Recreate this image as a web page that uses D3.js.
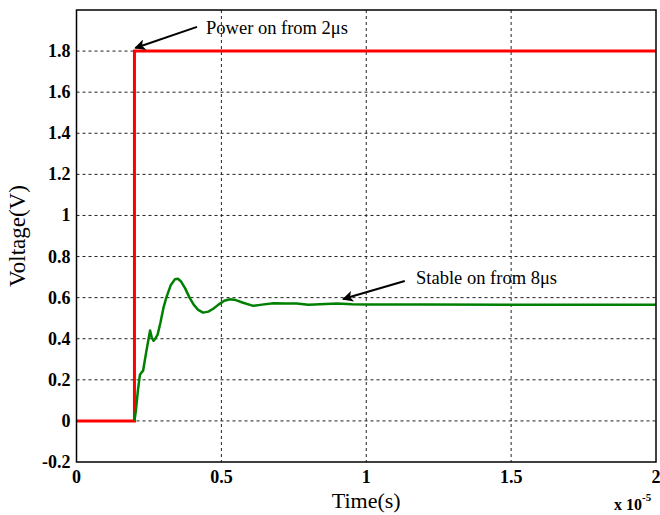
<!DOCTYPE html>
<html>
<head>
<meta charset="utf-8">
<script src="https://cdn.jsdelivr.net/npm/d3@7"></script>
<style>
    body { margin: 0; background: #fff; }
    svg text { font-family: "Liberation Serif", "Times New Roman", Times, serif; fill: #000; }
    .grid line { stroke: #222; stroke-width: 1; stroke-dasharray: 3,3; }
</style>
</head>
<body>
<div id="chart-area"></div>
<script>
// time in units of 1e-5 s
var timeTicks = [0, 0.5, 1, 1.5, 2];
var voltTicks = [-0.2, 0, 0.2, 0.4, 0.6, 0.8, 1, 1.2, 1.4, 1.6, 1.8];

// supply (red) step
var powerTime = [0, 0.2, 0.2, 2];
var powerVolt = [0, 0, 1.8, 1.8];

// output (green) settling curve
var outTime = [0.2, 0.205, 0.212, 0.219, 0.224, 0.23, 0.24, 0.25, 0.254, 0.26, 0.266, 0.272, 0.28, 0.29,
    0.3, 0.31, 0.325, 0.34, 0.35, 0.36, 0.375, 0.39, 0.405, 0.42, 0.437, 0.455, 0.472, 0.49, 0.51,
    0.53, 0.55, 0.575, 0.61, 0.64, 0.68, 0.72, 0.76, 0.8, 0.84, 0.9, 0.95, 1.0, 1.2, 1.5, 2.0];
var outVolt = [0.0, 0.05, 0.15, 0.225, 0.235, 0.245, 0.33, 0.41, 0.44, 0.405, 0.39, 0.4, 0.42, 0.48,
    0.55, 0.6, 0.66, 0.69, 0.692, 0.68, 0.645, 0.6, 0.565, 0.54, 0.527, 0.532, 0.546, 0.566, 0.585,
    0.592, 0.588, 0.575, 0.56, 0.566, 0.573, 0.572, 0.571, 0.565, 0.568, 0.572, 0.568, 0.566, 0.566, 0.565, 0.565];

// annotations: arrow tail, arrow tip and text position, all in data units
var notes = [
    { text: "Power on from 2\u03bcs", tail: [0.416, 1.918], tip: [0.203, 1.815], at: [0.447, 1.885] },
    { text: "Stable on from 8\u03bcs", tail: [1.133, 0.681], tip: [0.92, 0.593], at: [1.172, 0.668] }
];

var VoltageChart = function(_parentElement) {
    this.parentElement = _parentElement;
    this.initVis();
};

VoltageChart.prototype.initVis = function() {
    var vis = this;

    vis.margin = { top: 10, right: 4, bottom: 53, left: 76.5 };
    vis.width = 660 - vis.margin.left - vis.margin.right;
    vis.height = 515 - vis.margin.top - vis.margin.bottom;

    vis.root = d3.select("#" + vis.parentElement).append("svg")
        .attr("width", 660)
        .attr("height", 515);

    vis.root.append("defs").append("marker")
        .attr("id", "arrow")
        .attr("viewBox", "0 0 10 10")
        .attr("refX", 9)
        .attr("refY", 5)
        .attr("markerUnits", "userSpaceOnUse")
        .attr("markerWidth", 16)
        .attr("markerHeight", 11)
        .attr("orient", "auto")
        .append("path")
        .attr("d", "M0,0 L10,5 L0,10 L2.5,5 Z")
        .attr("fill", "#000");

    vis.svg = vis.root.append("g")
        .attr("transform", "translate(" + vis.margin.left + "," + vis.margin.top + ")");

    vis.x = d3.scaleLinear().domain([0, 2]).range([0, vis.width]);
    vis.y = d3.scaleLinear().domain([-0.2, 2]).range([vis.height, 0]);

    vis.updateVis();
};

VoltageChart.prototype.updateVis = function() {
    var vis = this;

    // grid
    var grid = vis.svg.append("g").attr("class", "grid");
    grid.selectAll(".vgrid")
        .data(timeTicks.filter(function(d) { return d > 0 && d < 2; }))
        .enter().append("line")
        .attr("x1", function(d) { return vis.x(d); })
        .attr("x2", function(d) { return vis.x(d); })
        .attr("y1", 0)
        .attr("y2", vis.height);
    grid.selectAll(".hgrid")
        .data(voltTicks.filter(function(d) { return d > -0.2; }))
        .enter().append("line")
        .attr("x1", 0)
        .attr("x2", vis.width)
        .attr("y1", function(d) { return vis.y(d); })
        .attr("y2", function(d) { return vis.y(d); });

    var line = d3.line()
        .x(function(d) { return vis.x(d[0]); })
        .y(function(d) { return vis.y(d[1]); });

    vis.svg.append("path")
        .datum(d3.zip(powerTime, powerVolt))
        .attr("d", line)
        .attr("fill", "none")
        .attr("stroke", "#ff0000")
        .attr("stroke-width", 3);

    vis.svg.append("path")
        .datum(d3.zip(outTime, outVolt))
        .attr("d", line)
        .attr("fill", "none")
        .attr("stroke", "#008000")
        .attr("stroke-width", 2.5)
        .attr("stroke-linejoin", "round");

    // box
    vis.svg.append("rect")
        .attr("width", vis.width)
        .attr("height", vis.height)
        .attr("fill", "none")
        .attr("stroke", "#000")
        .attr("stroke-width", 1.5);

    // tick labels
    vis.svg.selectAll(".ylab")
        .data(voltTicks)
        .enter().append("text")
        .attr("x", -6)
        .attr("y", function(d) { return vis.y(d) + 6; })
        .attr("text-anchor", "end")
        .style("font-weight", "bold")
        .style("font-size", "18px")
        .text(function(d) { return String(+d.toFixed(1)); });

    vis.svg.selectAll(".xlab")
        .data(timeTicks)
        .enter().append("text")
        .attr("x", function(d) { return vis.x(d); })
        .attr("y", vis.height + 21)
        .attr("text-anchor", "middle")
        .style("font-weight", "bold")
        .style("font-size", "18px")
        .text(function(d) { return d; });

    var expo = vis.svg.append("text")
        .attr("x", vis.width - 42)
        .attr("y", vis.height + 48)
        .style("font-weight", "bold")
        .style("font-size", "16px")
        .text("x 10");
    expo.append("tspan")
        .attr("dy", -9)
        .style("font-size", "11px")
        .text("-5");

    // axis titles
    vis.svg.append("text")
        .attr("transform", "translate(-52," + vis.y(0.9) + ") rotate(-90)")
        .attr("text-anchor", "middle")
        .style("font-size", "23px")
        .text("Voltage(V)");

    vis.svg.append("text")
        .attr("x", vis.x(1))
        .attr("y", vis.height + 46)
        .attr("text-anchor", "middle")
        .style("font-size", "22px")
        .text("Time(s)");

    // annotations
    notes.forEach(function(n) {
        vis.svg.append("line")
            .attr("x1", vis.x(n.tail[0]))
            .attr("y1", vis.y(n.tail[1]))
            .attr("x2", vis.x(n.tip[0]))
            .attr("y2", vis.y(n.tip[1]))
            .attr("stroke", "#000")
            .attr("stroke-width", 2)
            .attr("marker-end", "url(#arrow)");
        vis.svg.append("text")
            .attr("x", vis.x(n.at[0]))
            .attr("y", vis.y(n.at[1]))
            .style("font-size", "18.5px")
            .text(n.text);
    });
};

var chart = new VoltageChart("chart-area");
</script>
</body>
</html>
